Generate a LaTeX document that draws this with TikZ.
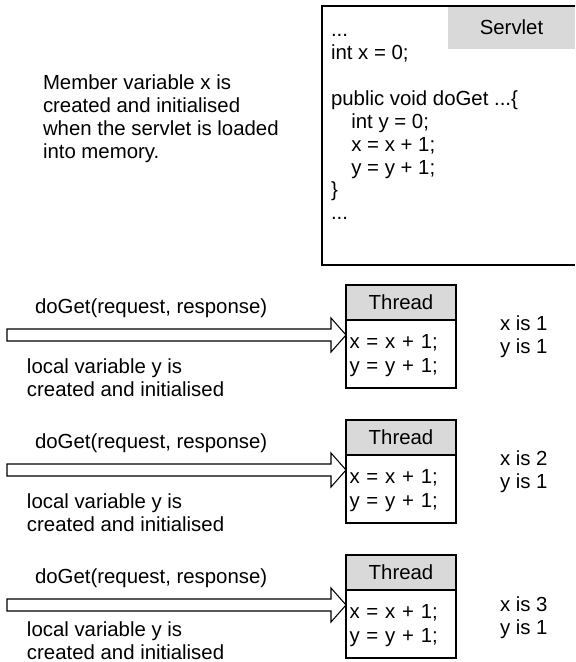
\documentclass[tikz,border=0pt]{standalone}
\usepackage{fontspec}
\setmainfont{Liberation Sans}
\usetikzlibrary{calc}

\begin{document}
\begin{tikzpicture}[x=0.02cm, y=-0.02cm,
  txt/.style={inner sep=0, outer sep=0, font=\fontsize{11.6}{13}\selectfont},
  para/.style={txt, align=left, anchor=north west},
  hdr/.style={txt, draw, fill=black!15, line width=0.8pt, minimum width=2.2cm, minimum height=0.7cm},
  body/.style={draw, line width=0.8pt, minimum width=2.2cm, minimum height=1.36cm, inner sep=0.07cm, outer sep=0,
    text width=2.06cm, align=left, font=\fontsize{11.6}{13.6}\selectfont},
  hollow/.style={draw, line width=0.6pt, fill=white},
]
\useasboundingbox (0,0) rectangle (575,662);

% === SERVLET ===
\node[txt, fill=black!15, minimum width=2.54cm, minimum height=0.86cm] (servlet) at (511.5,27.5) {Servlet};
\draw[line width=0.8pt] (575,6) -| (322,265) -- (575,265);
\node[para] (code) at (331,21)
  {\strut...\\int x = 0;\\[13pt]public void doGet ...\{\\\hspace*{1em}int y = 0;\\\hspace*{1em}x = x + 1;\\\hspace*{1em}y = y + 1;\\\}\\...};

\node[para] (member) at (43,74)
  {\strut Member variable x is\\created and initialised\\when the servlet is loaded\\into memory.};

% === THREE REQUESTS ===
\foreach \i/\v/\ev/\en in {0/1/0/0,1/2/0/0,2/3/11/-7} {
  \pgfmathsetmacro\dy{135*\i}
  \node[hdr] (th\i) at (401,{302.5+\dy}) {Thread};
  \node[body] (tb\i) at (401,{354+\dy}) {\strut x = x + 1;\\y = y + 1;};
  \coordinate (src\i) at (7,{335+\dy});
  \coordinate (tip\i) at (tb\i.west |- src\i);
  \draw[hollow] ($(src\i)+(0,-6)$) -- ($(tip\i)+(-15,-6)$) -- ($(tip\i)+(-15,-17)$) -- (tip\i)
    -- ($(tip\i)+(-15,17)$) -- ($(tip\i)+(-15,6)$) -- ($(src\i)+(0,6)$) -- cycle;
  \node[txt, anchor=base west] (call\i) at (35,{313+\dy}) {doGet(request, response)};
  \node[para, font=\fontsize{11.6}{11.4}\selectfont] (note\i) at (27,{359+\dy+\en})
    {\strut local variable y is\\created and initialised};
  \node[para] (val\i) at (500,{315+\dy+\ev}) {\strut x is \v\\y is 1};
}
\end{tikzpicture}
\end{document}
